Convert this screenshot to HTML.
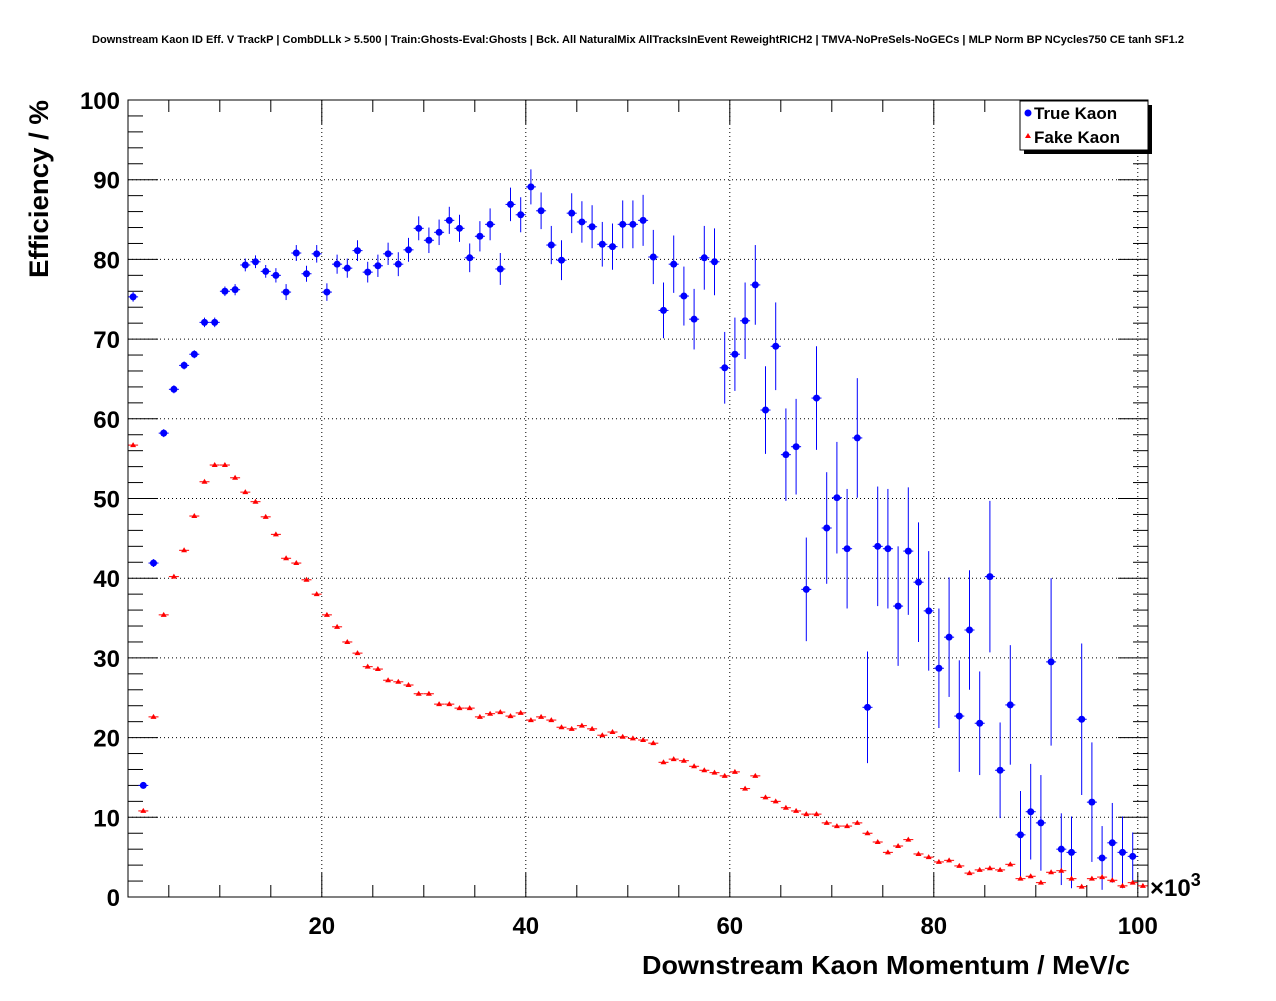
<!DOCTYPE html>
<html><head><meta charset="utf-8"><style>
html,body{margin:0;padding:0;background:#fff;}
svg text{font-family:"Liberation Sans",sans-serif;font-weight:bold;}
</style></head><body>
<svg id="chart" width="1276" height="996" xmlns="http://www.w3.org/2000/svg">
<rect width="1276" height="996" fill="#fff"/>
<text x="638" y="43" font-size="11" text-anchor="middle" textLength="1092" lengthAdjust="spacingAndGlyphs">Downstream Kaon ID Eff. V TrackP | CombDLLk &gt; 5.500 | Train:Ghosts-Eval:Ghosts | Bck. All NaturalMix AllTracksInEvent ReweightRICH2 | TMVA-NoPreSels-NoGECs | MLP Norm BP NCycles750 CE tanh SF1.2</text>
<g id="grid"></g>
<g id="axes"></g>
<g id="blue"></g>
<g id="red"></g>
<rect x="128" y="100" width="1020" height="797" fill="none" stroke="#000" stroke-width="1"/>
<text transform="translate(48,189) rotate(-90)" font-size="27" text-anchor="middle" textLength="178" lengthAdjust="spacingAndGlyphs">Efficiency / %</text>
<text x="1130" y="974" font-size="26" text-anchor="end" textLength="488" lengthAdjust="spacingAndGlyphs">Downstream Kaon Momentum / MeV/c</text>
<text x="1150" y="896" font-size="24" font-weight="normal">×10<tspan dy="-10" font-size="18">3</tspan></text>
<g>
<rect x="1024" y="105" width="128" height="49" fill="#000"/>
<rect x="1020" y="101" width="128" height="49" fill="#fff" stroke="#000"/>
<circle cx="1028" cy="113" r="3.5" fill="#0000ff"/>
<text x="1034" y="119" font-size="17" font-weight="normal">True Kaon</text>
<polygon points="1028,133 1031,138 1025,138" fill="#ff0000"/>
<text x="1034" y="143" font-size="17" font-weight="normal">Fake Kaon</text>
</g>
</svg>
<script>
const xTicks=[20,40,60,80,100];
const yTicks=[0,10,20,30,40,50,60,70,80,90,100];
const blueX=[];for(let i=1;i<=99;i++)blueX.push(i+0.5);
const blueY=[75.3,14.0,41.9,58.2,63.7,66.7,68.1,72.1,72.1,76.0,76.2,79.3,79.7,78.5,78.0,75.9,80.8,78.2,80.7,75.9,79.4,78.9,81.1,78.4,79.2,80.7,79.4,81.2,83.9,82.4,83.4,84.9,83.9,80.2,82.9,84.4,78.8,86.9,85.6,89.1,86.1,81.8,79.9,85.8,84.7,84.1,81.9,81.6,84.4,84.4,84.9,80.3,73.6,79.4,75.4,72.5,80.2,79.7,66.4,68.1,72.3,76.8,61.1,69.1,55.5,56.5,38.6,62.6,46.3,50.1,43.7,57.6,23.8,44.0,43.7,36.5,43.4,39.5,35.9,28.7,32.6,22.7,33.5,21.8,40.2,15.9,24.1,7.8,10.7,9.3,29.5,6.0,5.6,22.3,11.9,4.9,6.8,5.6,5.1];
const blueErr=[0.6,0.4,0.5,0.5,0.5,0.5,0.5,0.6,0.6,0.6,0.7,0.8,0.8,0.8,0.9,1.0,1.0,1.0,1.1,1.1,1.2,1.2,1.3,1.3,1.4,1.4,1.5,1.5,1.5,1.6,1.6,1.7,1.7,1.8,1.9,2.0,2.0,2.1,2.2,2.2,2.3,2.4,2.5,2.5,2.6,2.7,2.8,2.9,3.0,3.0,3.2,3.4,3.5,3.6,3.7,3.8,4.0,4.2,4.5,4.6,4.8,5.0,5.5,5.5,5.8,6.0,6.5,6.5,7.0,7.0,7.5,7.5,7.0,7.5,7.5,7.5,8.0,7.5,7.5,7.5,7.5,7.0,7.5,6.5,9.5,6.0,7.5,5.5,6.0,6.0,10.5,4.5,4.5,9.5,7.5,4.0,5.0,4.5,3.0];
const redX=[];for(let i=1;i<=100;i++)redX.push(i+0.5);
const redY=[56.7,10.8,22.6,35.4,40.2,43.5,47.8,52.1,54.2,54.2,52.6,50.8,49.6,47.7,45.5,42.5,41.9,39.8,38.0,35.4,33.9,32.0,30.6,28.9,28.6,27.2,27.0,26.6,25.5,25.5,24.2,24.2,23.7,23.7,22.6,23.0,23.2,22.7,23.1,22.2,22.6,22.2,21.3,21.1,21.5,21.1,20.3,20.7,20.1,19.9,19.7,19.3,16.9,17.3,17.1,16.4,15.9,15.6,15.2,15.7,13.6,15.2,12.5,12.0,11.2,10.8,10.4,10.4,9.3,8.9,8.9,9.3,8.0,6.9,5.6,6.4,7.2,5.4,5.0,4.4,4.6,3.9,3.0,3.4,3.6,3.4,4.1,2.3,2.6,1.8,3.1,3.3,2.3,1.3,2.3,2.5,2.1,1.4,1.8,1.4];
const X0=1,X1=101,PX0=128,PX1=1148,PY0=897,PY1=100;
const sx=v=>PX0+(v-X0)/(X1-X0)*(PX1-PX0);
const sy=v=>PY0-v/100*(PY0-PY1);
const NS="http://www.w3.org/2000/svg";
function mk(t,a,p){const e=document.createElementNS(NS,t);for(const k in a)e.setAttribute(k,a[k]);p.appendChild(e);return e;}
const grid=document.getElementById('grid'),axes=document.getElementById('axes');
xTicks.forEach(v=>{
 const l=mk('line',{x1:sx(v),x2:sx(v),y1:PY1,y2:PY0,stroke:'#000','stroke-dasharray':'1,3','stroke-width':1},grid);
 
 
 const t=mk('text',{x:sx(v),y:934,'font-size':24,'text-anchor':'middle'},axes);t.textContent=v;
 
 
});
for(let v=5;v<=100;v+=5){const len=v%20===0?24:12;
 mk('line',{x1:sx(v),x2:sx(v),y1:PY0,y2:PY0-len,stroke:'#000'},axes);
 mk('line',{x1:sx(v),x2:sx(v),y1:PY1,y2:PY1+len,stroke:'#000'},axes);}
yTicks.forEach(v=>{
 if(v>0&&v<100){const l=mk('line',{x1:PX0,x2:PX1,y1:sy(v),y2:sy(v),stroke:'#000','stroke-dasharray':'1,3'},grid);
 
 }
 const t=mk('text',{x:120,y:sy(v)+9,'font-size':24,'text-anchor':'end'},axes);t.textContent=v;
 
 
});
for(let v=0;v<=100;v+=2){const len=v%10===0?30:15;
 mk('line',{x1:PX0,x2:PX0+len,y1:sy(v),y2:sy(v),stroke:'#000'},axes);
 mk('line',{x1:PX1,x2:PX1-len,y1:sy(v),y2:sy(v),stroke:'#000'},axes);}
const bg=document.getElementById('blue');
blueX.forEach((x,i)=>{
 const cx=sx(x),cy=sy(blueY[i]),e=blueErr[i];
 mk('line',{x1:cx,x2:cx,y1:sy(blueY[i]+e),y2:sy(blueY[i]-e),stroke:'#0000ff'},bg);
 mk('line',{x1:cx-5,x2:cx+5,y1:cy,y2:cy,stroke:'#0000ff'},bg);
 const c=mk('circle',{cx:cx,cy:cy,r:3.5,fill:'#0000ff'},bg);
 
 
});
const rg=document.getElementById('red');
redX.forEach((x,i)=>{
 const cx=sx(x),cy=sy(redY[i]);
 mk('line',{x1:cx-5,x2:cx+5,y1:cy,y2:cy,stroke:'#ff0000'},rg);
 const p=mk('polygon',{points:`${cx},${cy-3} ${cx+3},${cy+2} ${cx-3},${cy+2}`,fill:'#ff0000'},rg);
 
 
});
</script>
</body></html>
